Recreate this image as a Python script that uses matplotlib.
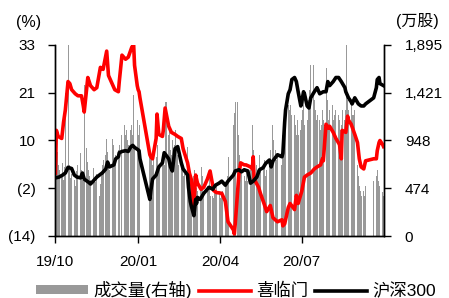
import matplotlib
matplotlib.use('Agg')
import matplotlib.pyplot as plt
import numpy as np
import pandas as pd

plt.rcParams['font.family'] = ['Liberation Sans', 'Noto Sans CJK SC']

# ---------------- data ----------------
holidays = ['2020-01-01', '2020-01-24', '2020-01-27', '2020-01-28', '2020-01-29',
            '2020-01-30', '2020-01-31', '2020-04-06', '2020-05-01', '2020-05-04',
            '2020-05-05', '2020-06-25', '2020-06-26', '2020-10-01', '2020-10-02',
            '2020-10-05', '2020-10-06', '2020-10-07', '2020-10-08']
start_date, end_date = '2019-10-21', '2020-10-20'

# daily volume (万股), one row per week
volume = (
    [1680, 900, 830, 700, 650] +
    [600, 720, 560, 680, 1420] +
    [1895, 830, 700, 580, 620] +
    [560, 500, 640, 700, 520] +
    [820, 650, 560, 600, 1500] +
    [870, 730, 650, 600, 560] +
    [670, 580, 500, 540, 620] +
    [400, 520, 600, 700, 750] +
    [800, 960, 830, 700, 650] +
    [600, 960, 900, 700, 800] +
    [850, 900, 1000, 950] +
    [1100, 1000, 1050, 950, 900] +
    [1050, 1100, 1000, 1400, 900] +
    [1150, 1000, 900, 1100] +
    [900, 800, 750, 700, 820] +
    [780, 900, 850, 700, 650] +
    [800, 750, 700, 900, 1330] +
    [1000, 1050, 850, 800, 950] +
    [900, 1050, 850, 800, 700] +
    [750, 650, 600, 580, 620] +
    [880, 650, 600, 550, 500] +
    [600, 650, 520, 480, 450] +
    [500, 450, 680, 600, 420] +
    [500, 450, 650, 400] +
    [400, 380, 450, 420, 500] +
    [450, 400, 380, 420, 450] +
    [500, 550, 600, 785] +
    [1100, 1220, 1330] +
    [1330, 1000, 800, 700, 650] +
    [600, 550, 650, 500, 550] +
    [650, 750, 1100, 850, 750] +
    [700, 650, 600, 800, 650] +
    [550, 700, 750, 600, 650] +
    [750, 850, 700, 1100, 950] +
    [850, 750, 800] +
    [700, 1000, 950, 1100, 1050] +
    [1300, 1250, 1150, 1300, 1200] +
    [1200, 1100, 1000, 1150, 1000] +
    [1050, 1150, 1250, 1350, 1100] +
    [1150, 1250, 1350, 1450, 1700] +
    [1700, 1350, 1250, 1150, 1200] +
    [1150, 1050, 1100, 1250, 1150] +
    [1250, 1670, 1350, 1150, 1250] +
    [1300, 1150, 1100, 1200, 1250] +
    [1200, 1150, 1050, 1100, 1250] +
    [1150, 1250, 1895, 1350, 1250] +
    [1300, 1150, 1200, 1100, 1250] +
    [700, 600, 500, 450, 400] +
    [450, 400, 500] +
    [550] +
    [600, 650, 550, 500, 450] +
    [440, 400]
)

# 喜临门 cumulative return (%)
xlm_dates = ['2019-10-21', '2019-10-22', '2019-10-24', '2019-10-28', '2019-10-30', '2019-11-01',
             '2019-11-04', '2019-11-06', '2019-11-08', '2019-11-12', '2019-11-15', '2019-11-19',
             '2019-11-21', '2019-11-22', '2019-11-26', '2019-11-29', '2019-12-03', '2019-12-06',
             '2019-12-10', '2019-12-13', '2019-12-17', '2019-12-19', '2019-12-23', '2019-12-26',
             '2019-12-30', '2019-12-31', '2020-01-03', '2020-01-07', '2020-01-10', '2020-01-14',
             '2020-01-16', '2020-01-17', '2020-01-20', '2020-01-21', '2020-01-22', '2020-01-23',
             '2020-02-03', '2020-02-04', '2020-02-06', '2020-02-10', '2020-02-11', '2020-02-13',
             '2020-02-17', '2020-02-18', '2020-02-20', '2020-02-24', '2020-02-27', '2020-03-02',
             '2020-03-05', '2020-03-09', '2020-03-11', '2020-03-16', '2020-03-18', '2020-03-20',
             '2020-03-23', '2020-03-25', '2020-03-27', '2020-03-31', '2020-04-03', '2020-04-07',
             '2020-04-10', '2020-04-14', '2020-04-17', '2020-04-23', '2020-04-27', '2020-04-30',
             '2020-05-06', '2020-05-07', '2020-05-08', '2020-05-12', '2020-05-14', '2020-05-18',
             '2020-05-20', '2020-05-25', '2020-05-27', '2020-05-28', '2020-05-29', '2020-06-03',
             '2020-06-05', '2020-06-09', '2020-06-12', '2020-06-16', '2020-06-19', '2020-06-24',
             '2020-06-29', '2020-06-30', '2020-07-02', '2020-07-06', '2020-07-08', '2020-07-13',
             '2020-07-15', '2020-07-17', '2020-07-21', '2020-07-24', '2020-07-27', '2020-07-31',
             '2020-08-04', '2020-08-07', '2020-08-11', '2020-08-13', '2020-08-14', '2020-08-17',
             '2020-08-20', '2020-08-21', '2020-08-25', '2020-08-28', '2020-09-01', '2020-09-03',
             '2020-09-04', '2020-09-08', '2020-09-10', '2020-09-11', '2020-09-14', '2020-09-18',
             '2020-09-21', '2020-09-23', '2020-09-25', '2020-09-28', '2020-09-30', '2020-10-09',
             '2020-10-12', '2020-10-13', '2020-10-15', '2020-10-16', '2020-10-19', '2020-10-20']
xlm_vals = [1.5, 12, 10.5, 10, 14, 17,
            24, 23.5, 22, 21, 20.5, 20.5,
            18, 16.5, 25, 23, 22, 22.5,
            27.5, 27, 31.5, 25.5, 23.5, 22,
            21.5, 24, 30.5, 29.5, 30, 32.5,
            33, 28, 23, 22, 21.5, 20,
            6, 5.5, 5, 10, 16, 11,
            10.5, 12, 17.5, 13, 11.5, 11,
            10.5, 10, 7.5, 4, 1.5, 0,
            -6.5, 1, -1, -2.5, -2, 0,
            2, -2.8, -3.3, -3.5, -5.5, -10.5,
            -12.5, -13.5, -11, 1, 4, 3.5,
            3.5, 3, 2.5, 5.5, 0, -2,
            -3.5, -6, -8, -6.5, -9.5, -10.5,
            -10, -11.5, -11, -7, -6, -7.5,
            -4, -6, -3, 0.5, 1, 1.5,
            2.5, 3, 3.5, 5, 4.5, 13.5,
            12.5, 13, 11.5, 10, 8.5, 5,
            12, 11.5, 15.5, 14.5, 13.5, 11,
            9, 5, 3, 2.5, 4.5, 5,
            5, 7, 9, 9.5, 8.5, 8]

# 沪深300 cumulative return (%)
hs_dates = ['2019-10-21', '2019-10-25', '2019-10-29', '2019-11-01', '2019-11-04', '2019-11-08',
            '2019-11-11', '2019-11-14', '2019-11-18', '2019-11-20', '2019-11-22', '2019-11-27',
            '2019-11-29', '2019-12-02', '2019-12-06', '2019-12-09', '2019-12-12', '2019-12-16',
            '2019-12-18', '2019-12-20', '2019-12-25', '2019-12-27', '2019-12-30', '2019-12-31',
            '2020-01-03', '2020-01-07', '2020-01-10', '2020-01-13', '2020-01-15', '2020-01-17',
            '2020-01-21', '2020-01-22', '2020-01-23', '2020-02-03', '2020-02-04', '2020-02-06',
            '2020-02-10', '2020-02-13', '2020-02-17', '2020-02-19', '2020-02-24', '2020-02-26',
            '2020-02-28', '2020-03-02', '2020-03-05', '2020-03-09', '2020-03-11', '2020-03-16',
            '2020-03-17', '2020-03-19', '2020-03-20', '2020-03-23', '2020-03-24', '2020-03-25',
            '2020-03-26', '2020-03-27', '2020-03-30', '2020-04-03', '2020-04-07', '2020-04-09',
            '2020-04-13', '2020-04-16', '2020-04-20', '2020-04-23', '2020-04-27', '2020-04-30',
            '2020-05-06', '2020-05-08', '2020-05-12', '2020-05-15', '2020-05-18', '2020-05-22',
            '2020-05-25', '2020-05-28', '2020-06-01', '2020-06-04', '2020-06-08', '2020-06-11',
            '2020-06-15', '2020-06-17', '2020-06-19', '2020-06-24', '2020-06-29', '2020-06-30',
            '2020-07-02', '2020-07-03', '2020-07-06', '2020-07-08', '2020-07-10', '2020-07-13',
            '2020-07-15', '2020-07-17', '2020-07-20', '2020-07-21', '2020-07-23', '2020-07-24',
            '2020-07-27', '2020-07-29', '2020-07-31', '2020-08-04', '2020-08-07', '2020-08-10',
            '2020-08-14', '2020-08-17', '2020-08-19', '2020-08-21', '2020-08-25', '2020-08-28',
            '2020-08-31', '2020-09-03', '2020-09-07', '2020-09-08', '2020-09-11', '2020-09-14',
            '2020-09-15', '2020-09-17', '2020-09-18', '2020-09-22', '2020-09-25', '2020-09-28',
            '2020-09-30', '2020-10-09', '2020-10-12', '2020-10-13', '2020-10-15', '2020-10-16',
            '2020-10-20']
hs_vals = [0.3, 0.5, 1, 1.5, 2.9, 2.6,
           1, 0.5, 0.3, 1.5, 0, -0.8,
           -1.2, -0.5, 0.5, 1, 1.5, 2.5,
           4.2, 3, 3.5, 5, 5.5, 6.5,
           6.8, 7, 6.8, 8, 8.3, 7.8,
           7.2, 7, 5, -5, -3, 0,
           1, 3, 4, 6.5, 5, 3,
           2, 7.5, 8, 4, 2.5, 1,
           -2, -5.5, -6.5, -9, -7, -5,
           -6, -4.5, -5, -3.5, -2.5, -2,
           -2.5, -1.5, -1, -0.5, -1.5, -0.5,
           1, 2, 2.3, 1.8, 2.3, 2,
           -1, -0.5, 0.5, 2.3, 2.8, 3.9,
           4.7, 3, 4.5, 6, 5.5, 6.4,
           14, 17, 21, 22, 24.5, 25,
           24, 21.5, 18, 19, 21.5, 21,
           18, 17.5, 20, 21.5, 22.5, 21,
           21.5, 21.5, 24, 23, 24, 25,
           25, 24, 22.5, 21.5, 20, 19,
           18.5, 19.5, 20, 18.5, 18, 18,
           18.5, 20, 22.5, 24.5, 25, 23.5,
           23]

left_ticklabels = ['(14)', '(2)', '10', '21', '33']
right_ticklabels = ['0', '474', '948', '1,421', '1,895']
x_tick_dates = ['2019-10-21', '2020-01-21', '2020-04-21', '2020-07-21']
x_ticklabels = ['19/10', '20/01', '20/04', '20/07']
legend_labels = ['成交量(右轴)', '喜临门', '沪深300']

# ---------------- plot ----------------
trade_days = pd.bdate_range(start_date, end_date)
trade_days = trade_days[~trade_days.isin(pd.to_datetime(holidays))]
assert len(trade_days) == len(volume), (len(trade_days), len(volume))

W, H = 449, 298
fig = plt.figure(figsize=(W / 100, H / 100), dpi=100)
ax = fig.add_axes([55 / W, 1 - 236 / H, (384 - 55) / W, (236 - 45) / H])
ax2 = ax.twinx()
ax.set_zorder(ax2.get_zorder() + 1)
ax.patch.set_visible(False)

bars = ax2.bar(trade_days, volume, width=1.15, color='#999999', linewidth=0,
               label=legend_labels[0])
l1, = ax.plot(pd.to_datetime(xlm_dates), xlm_vals, color='#ff0000', lw=2.6,
              label=legend_labels[1], solid_joinstyle='round')
l2, = ax.plot(pd.to_datetime(hs_dates), hs_vals, color='#000000', lw=2.6,
              label=legend_labels[2], solid_joinstyle='round')

ax.set_xlim(pd.Timestamp('2019-10-20 12:00'), pd.Timestamp('2020-10-20 12:00'))
ax.set_ylim(-14, 33)
ax2.set_ylim(0, 1895)
ax.set_yticks(np.linspace(-14, 33, 5))
ax.set_yticklabels(left_ticklabels)
ax2.set_yticks(np.linspace(0, 1895, 5))
ax2.set_yticklabels(right_ticklabels)
ax.set_xticks(pd.to_datetime(x_tick_dates))
ax.set_xticklabels(x_ticklabels)

for a in (ax, ax2):
    a.spines['top'].set_visible(False)
    for s in ('left', 'right', 'bottom'):
        a.spines[s].set_linewidth(1.0)
        a.spines[s].set_color('black')
ax.tick_params(axis='y', direction='out', length=5, width=1, pad=9, labelsize=11)
ax2.tick_params(axis='y', direction='out', length=5, width=1, pad=10, labelsize=11)
ax.tick_params(axis='x', direction='out', length=5, width=1, pad=9, labelsize=11)

fig.text(29 / W, 1 - 22 / H, '(%)', ha='center', va='center', fontsize=11.5)
fig.text(417 / W, 1 - 21 / H, '(万股)', ha='center', va='center', fontsize=11.5)

fig.legend([bars, l1, l2], legend_labels, loc='center', ncol=3,
           bbox_to_anchor=(236 / W, 1 - 290 / H), frameon=False, fontsize=12.5,
           handlelength=3.0, handleheight=0.45, handletextpad=0.3,
           columnspacing=0.4, borderaxespad=0, borderpad=0)

fig.savefig('out.png', dpi=100)
